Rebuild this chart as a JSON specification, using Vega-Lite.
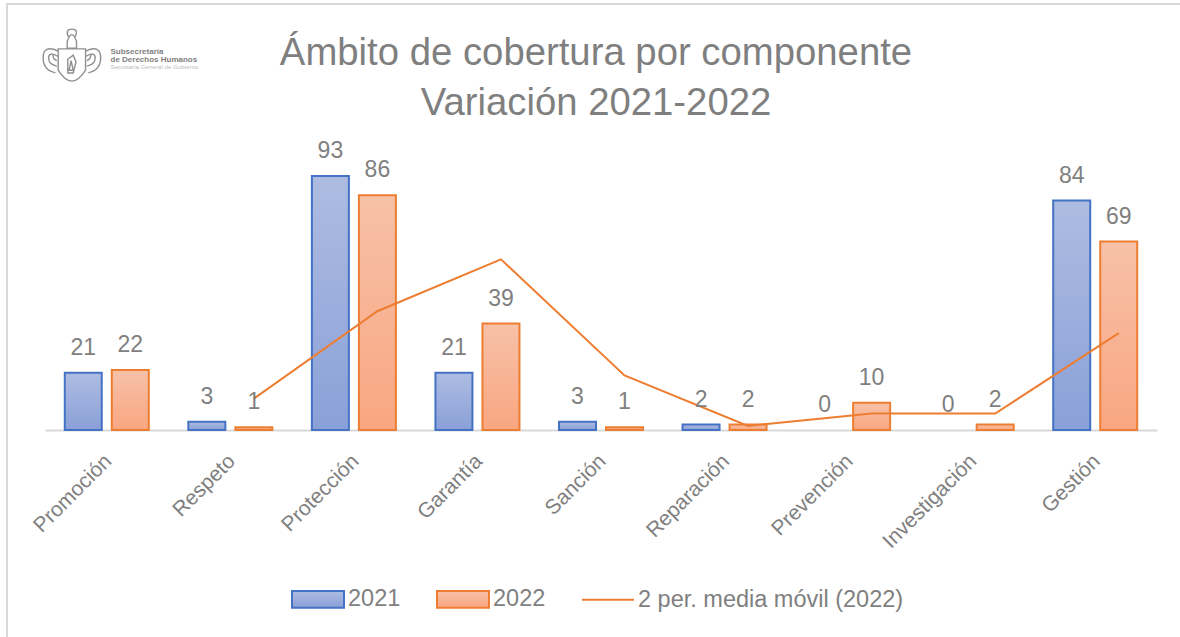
{
 "$schema":"https://vega.github.io/schema/vega-lite/v6.json",
 "autosize":{"type":"none"},
 "padding":{"left":7,"top":4,"right":0,"bottom":0},
 "width":1180,"height":640,
 "background":"white",
 "title":{"text":["Ámbito de cobertura por componente","Variación 2021-2022"],"font":"Liberation Sans","fontSize":38.3,"fontWeight":"normal","color":"#7f7f7f","anchor":"middle","frame":"group","dx":-1,"offset":-119,"lineHeight":50},
 "config":{"view":{"stroke":"#d9d9d9","strokeWidth":2},"font":"Liberation Sans"},
 "data":{"values":[
  {"componente":"Promoción","serie":"2021","valor":21},{"componente":"Promoción","serie":"2022","valor":22},
  {"componente":"Respeto","serie":"2021","valor":3},{"componente":"Respeto","serie":"2022","valor":1},
  {"componente":"Protección","serie":"2021","valor":93},{"componente":"Protección","serie":"2022","valor":86},
  {"componente":"Garantía","serie":"2021","valor":21},{"componente":"Garantía","serie":"2022","valor":39},
  {"componente":"Sanción","serie":"2021","valor":3},{"componente":"Sanción","serie":"2022","valor":1},
  {"componente":"Reparación","serie":"2021","valor":2},{"componente":"Reparación","serie":"2022","valor":2},
  {"componente":"Prevención","serie":"2021","valor":0},{"componente":"Prevención","serie":"2022","valor":10},
  {"componente":"Investigación","serie":"2021","valor":0},{"componente":"Investigación","serie":"2022","valor":2},
  {"componente":"Gestión","serie":"2021","valor":84},{"componente":"Gestión","serie":"2022","valor":69},
  {"componente":"Respeto","serie":"2 per. media móvil (2022)","valor":11.5},
  {"componente":"Protección","serie":"2 per. media móvil (2022)","valor":43.5},
  {"componente":"Garantía","serie":"2 per. media móvil (2022)","valor":62.5},
  {"componente":"Sanción","serie":"2 per. media móvil (2022)","valor":20},
  {"componente":"Reparación","serie":"2 per. media móvil (2022)","valor":1.5},
  {"componente":"Prevención","serie":"2 per. media móvil (2022)","valor":6},
  {"componente":"Investigación","serie":"2 per. media móvil (2022)","valor":6},
  {"componente":"Gestión","serie":"2 per. media móvil (2022)","valor":35.5}
 ]},
 "encoding":{
  "x":{"field":"componente","type":"nominal","sort":null,
   "scale":{"domain":["Promoción","Respeto","Protección","Garantía","Sanción","Reparación","Prevención","Investigación","Gestión"],"range":[38,1150],"paddingInner":0.32,"paddingOuter":0.16},
   "axis":{"orient":"bottom","offset":-214,"title":"Secretaría General de Gobierno","titleX":103,"titleY":-367,"titleFontSize":6.2,"titleFontWeight":"normal","titleColor":"#bdbdbd","titleAlign":"left","labelAngle":-45,"labelAlign":"right","labelBaseline":"top","labelFontSize":21,"labelColor":"#7f7f7f","labelPadding":20,"labelOffset":-6,"labelFont":"Liberation Sans","ticks":false,"domainColor":"#d9d9d9","domainWidth":2,"grid":false}},
  "y":{"field":"valor","type":"quantitative","scale":{"domain":[0,156],"range":[426,0],"nice":false},
   "axis":{"title":["Subsecretaría","de Derechos Humanos"],"titleX":103,"titleY":49,"titleAngle":0,"titleAlign":"left","titleBaseline":"alphabetic","titleFontSize":8,"titleFontWeight":"bold","titleColor":"#7f7f7f","labels":false,"ticks":false,"domain":false,"grid":false,"titleLineHeight":8}},
  "xOffset":{"field":"serie","type":"nominal","scale":{"domain":["2021","2022"],"paddingInner":0.213,"paddingOuter":0}},
  "stroke":{"field":"serie","type":"nominal","title":null,
     "scale":{"domain":["2021","2022","2 per. media móvil (2022)"],"range":["#4472c4","#ed7d31","#ed7d31"]},
     "legend":{"orient":"none","legendX":284,"legendY":568,"direction":"horizontal","columns":3,"symbolSize":2704,"symbolStrokeWidth":2,"labelFontSize":23.5,"labelColor":"#7f7f7f","labelFont":"Liberation Sans","labelOffset":3,"columnPadding":32,"labelLimit":320,"symbolOpacity":1,
      "encoding":{"symbols":{
        "shape":{"value":{"signal":"datum.value === '2 per. media móvil (2022)' ? 'M-1,0H1' : 'M-1,-0.32H1V0.32H-1Z'"}},
        "fill":{"value":{"signal":"datum.value === '2021' ? {gradient:'linear',x1:0,y1:0,x2:0,y2:1,stops:[{offset:0,color:'#aebce1'},{offset:1,color:'#8aa0d8'}]} : datum.value === '2022' ? {gradient:'linear',x1:0,y1:0,x2:0,y2:1,stops:[{offset:0,color:'#f7c1a8'},{offset:1,color:'#f9a681'}]} : 'transparent'"}},
        "strokeWidth":{"value":2},"opacity":{"value":1}}}}}
 },
 "layer":[
  {"transform":[{"filter":"datum.serie === '2021' && datum.valor > 0"}],
   "mark":{"type":"bar","strokeWidth":2,"fill":{"gradient":"linear","x1":0,"y1":0,"x2":0,"y2":1,"stops":[{"offset":0,"color":"#aebce1"},{"offset":1,"color":"#8aa0d8"}]}}},
  {"transform":[{"filter":"datum.serie === '2022' && datum.valor > 0"}],
   "mark":{"type":"bar","strokeWidth":2,"fill":{"gradient":"linear","x1":0,"y1":0,"x2":0,"y2":1,"stops":[{"offset":0,"color":"#f7c1a8"},{"offset":1,"color":"#f9a681"}]}}},
  {"transform":[{"filter":"datum.serie === '2 per. media móvil (2022)'"}],
   "mark":{"type":"line","strokeWidth":2,"interpolate":"linear"},
   "encoding":{"xOffset":{"datum":"2022"}}},
  {"transform":[{"filter":"datum.serie !== '2 per. media móvil (2022)'"}],
   "mark":{"type":"text","fontSize":23,"align":"center","baseline":"alphabetic","dy":-18,"font":"Liberation Sans","fill":"#7f7f7f","strokeWidth":0},
   "encoding":{"text":{"field":"valor","type":"quantitative"}}},
  {"data":{"values":[{"componente":"Promoción","serie":"2021","valor":0,"logo":"escudo"}]},
   "mark":{"type":"point","opacity":0,"strokeOpacity":0,"fillOpacity":0},
   "encoding":{
    "shape":{"field":"logo","type":"nominal","title":null,
     "scale":{"domain":["escudo"],"range":["M-.45,-.28L.55,-.28L.55,.5Q.05,1.3 -.45,.5ZM-.12,-.55Q.05,-1.05 .22,-.55L.22,-.3L-.12,-.3ZM-.08,-.72Q-.2,-1 .05,-1Q.3,-1 .18,-.72M-.45,-.2Q-1,-.45 -1,.05Q-1,.5 -.55,.6M-.45,0Q-.8,-.2 -.8,.05Q-.8,.3 -.5,.35M-.65,-.1Q-.65,.1 -.5,.15M.55,-.2Q1.1,-.45 1.1,.05Q1.1,.5 .65,.6M.55,0Q.9,-.2 .9,.05Q.9,.3 .6,.35M.75,-.1Q.75,.1 .6,.15M-.1,.6L-.1,.1L.1,-.05L.2,.2L.1,.6ZM-.05,.5L.02,.15L.1,.5Z"]},
     "legend":{"orient":"none","legendX":35,"legendY":24,"symbolSize":3000,"labelExpr":"''","labelFontSize":1,
       "encoding":{"symbols":{"opacity":{"value":1},"stroke":{"value":"#8f8f8f"},"fill":{"value":"transparent"},"strokeWidth":{"value":1.4}}}}}}}
 ]
}
